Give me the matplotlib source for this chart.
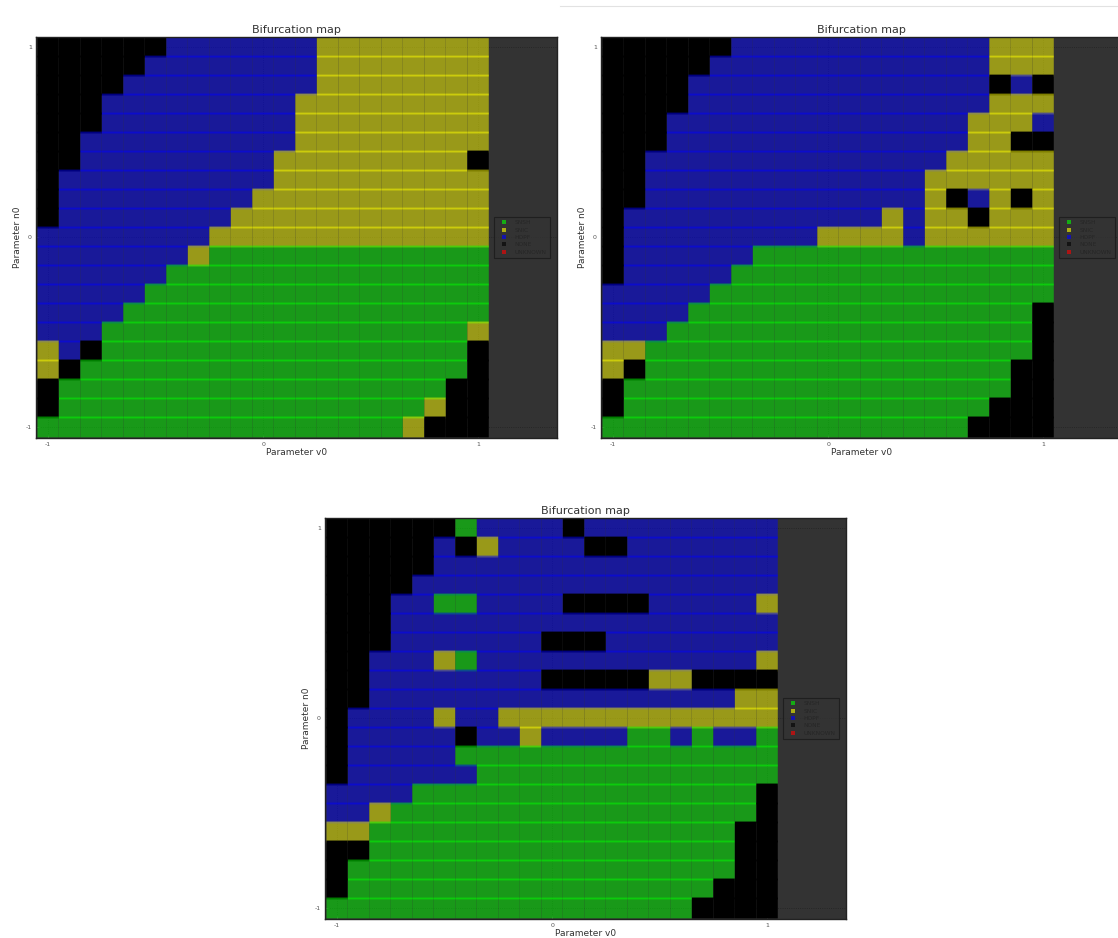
"""Three bifurcation maps (v0 vs n0) side by side, matplotlib classic look."""

import matplotlib

matplotlib.use("Agg")
import matplotlib.pyplot as plt
from matplotlib.lines import Line2D
from matplotlib.patches import Rectangle

# grid of parameter values
v0_values = [-1.0, -0.9, -0.8, -0.7, -0.6, -0.5, -0.4, -0.3, -0.2, -0.1, 0.0,
             0.1, 0.2, 0.3, 0.4, 0.5, 0.6, 0.7, 0.8, 0.9, 1.0]
n0_values = [1.0, 0.9, 0.8, 0.7, 0.6, 0.5, 0.4, 0.3, 0.2, 0.1, 0.0,
             -0.1, -0.2, -0.3, -0.4, -0.5, -0.6, -0.7, -0.8, -0.9, -1.0]

# G = SNSH, Y = SNIC, B = HOPF, K = NONE, R = UNKNOWN ; one string per n0 row
map_a = [
    "KKKKKKBBBBBBBYYYYYYYY",
    "KKKKKBBBBBBBBYYYYYYYY",
    "KKKKBBBBBBBBBYYYYYYYY",
    "KKKBBBBBBBBBYYYYYYYYY",
    "KKKBBBBBBBBBYYYYYYYYY",
    "KKBBBBBBBBBBYYYYYYYYY",
    "KKBBBBBBBBBYYYYYYYYYK",
    "KBBBBBBBBBBYYYYYYYYYY",
    "KBBBBBBBBBYYYYYYYYYYY",
    "KBBBBBBBBYYYYYYYYYYYY",
    "BBBBBBBBYYYYYYYYYYYYY",
    "BBBBBBBYGGGGGGGGGGGGG",
    "BBBBBBGGGGGGGGGGGGGGG",
    "BBBBBGGGGGGGGGGGGGGGG",
    "BBBBGGGGGGGGGGGGGGGGG",
    "BBBGGGGGGGGGGGGGGGGGY",
    "YBKGGGGGGGGGGGGGGGGGK",
    "YKGGGGGGGGGGGGGGGGGGK",
    "KGGGGGGGGGGGGGGGGGGKK",
    "KGGGGGGGGGGGGGGGGGYKK",
    "GGGGGGGGGGGGGGGGGYKKK",
]

map_b = [
    "KKKKKKBBBBBBBBBBBBYYY",
    "KKKKKBBBBBBBBBBBBBYYY",
    "KKKKBBBBBBBBBBBBBBKBK",
    "KKKKBBBBBBBBBBBBBBYYY",
    "KKKBBBBBBBBBBBBBBYYYB",
    "KKKBBBBBBBBBBBBBBYYKK",
    "KKBBBBBBBBBBBBBBYYYYY",
    "KKBBBBBBBBBBBBBYYYYYY",
    "KKBBBBBBBBBBBBBYKBYKY",
    "KBBBBBBBBBBBBYBYYKYYY",
    "KBBBBBBBBBYYYYBYYYYYY",
    "KBBBBBBGGGGGGGGGGGGGG",
    "KBBBBBGGGGGGGGGGGGGGG",
    "BBBBBGGGGGGGGGGGGGGGG",
    "BBBBGGGGGGGGGGGGGGGGK",
    "BBBGGGGGGGGGGGGGGGGGK",
    "YYGGGGGGGGGGGGGGGGGGK",
    "YKGGGGGGGGGGGGGGGGGKK",
    "KGGGGGGGGGGGGGGGGGGKK",
    "KGGGGGGGGGGGGGGGGGKKK",
    "GGGGGGGGGGGGGGGGGKKKK",
]

map_c = [
    "KKKKKKGBBBBKBBBBBBBBB",
    "KKKKKBKYBBBBKKBBBBBBB",
    "KKKKKBBBBBBBBBBBBBBBB",
    "KKKKBBBBBBBBBBBBBBBBB",
    "KKKBBGGBBBBKKKKBBBBBY",
    "KKKBBBBBBBBBBBBBBBBBB",
    "KKKBBBBBBBKKKBBBBBBBB",
    "KKBBBYGBBBBBBBBBBBBBY",
    "KKBBBBBBBBKKKKKYYKKKK",
    "KKBBBBBBBBBBBBBBBBBYY",
    "KBBBBYBBYYYYYYYYYYYYY",
    "KBBBBBKBBYBBBBGGBGBBG",
    "KBBBBBGGGGGGGGGGGGGGG",
    "KBBBBBBGGGGGGGGGGGGGG",
    "BBBBGGGGGGGGGGGGGGGGK",
    "BBYGGGGGGGGGGGGGGGGGK",
    "YYGGGGGGGGGGGGGGGGGKK",
    "KKGGGGGGGGGGGGGGGGGKK",
    "KGGGGGGGGGGGGGGGGGGKK",
    "KGGGGGGGGGGGGGGGGGKKK",
    "GGGGGGGGGGGGGGGGGKKKK",
]

class_names = ["SNSH", "SNIC", "HOPF", "NONE", "UNKNOWN"]
class_codes = ["G", "Y", "B", "K", "R"]
class_colors = ["#00ff00", "#ffff00", "#0000ff", "#000000", "#ff0000"]

BG = "#333333"

plt.rcParams["axes.unicode_minus"] = False


def draw_map(ax, rows):
    color_of = dict(zip(class_codes, class_colors))
    for n0, row in zip(n0_values, rows):
        for v0, code in zip(v0_values, row):
            alpha = 1.0 if code == "K" else 0.5
            # a hair narrow, a bit tall: rows overlap into bright seams
            ax.add_patch(Rectangle((v0 - 0.0497, n0 - 0.055), 0.0994, 0.11,
                                   facecolor=color_of[code], edgecolor="none",
                                   alpha=alpha, zorder=2, snap=False))

    ax.set_facecolor(BG)
    ax.set_xlim(-1.056, 1.367)
    ax.set_ylim(-1.058, 1.053)
    ax.set_xticks([-1, 0, 1])
    ax.set_yticks([-1, 0, 1])
    ax.tick_params(labelsize=4.5, colors="#555555", length=2, width=0.5,
                   direction="in", pad=3)
    ax.grid(True, linestyle=":", color="#222222", linewidth=0.6, zorder=1)
    ax.set_axisbelow(True)
    for spine in ax.spines.values():
        spine.set_color("#222222")
        spine.set_linewidth(1.0)

    ax.set_title("Bifurcation map", fontsize=8, color="#333333", pad=3)
    ax.set_xlabel("Parameter v0", fontsize=6.5, color="#333333", labelpad=0.5)
    ax.set_ylabel("Parameter n0", fontsize=6.5, color="#333333", labelpad=3)

    handles = [Line2D([], [], marker="s", linestyle="None", color=c,
                      markersize=2.6, alpha=0.6, markeredgewidth=0)
               for c in class_colors]
    leg = ax.legend(handles, class_names, loc="center right",
                    bbox_to_anchor=(0.993, 0.5), fontsize=4.2,
                    frameon=True, fancybox=False, handletextpad=0.9,
                    labelspacing=0.38, borderpad=0.65)
    leg.get_frame().set_facecolor(BG)
    leg.get_frame().set_edgecolor("#1a1a1a")
    leg.get_frame().set_linewidth(0.8)
    for text in leg.get_texts():
        text.set_color("#262626")


def main() -> None:
    fig = plt.figure(figsize=(11.18, 9.38), dpi=100)
    W, H = 1118.0, 938.0
    aw, ah = 521 / W, 401 / H

    ax_a = fig.add_axes([36 / W, (H - 438) / H, aw, ah])
    ax_b = fig.add_axes([601 / W, (H - 438) / H, aw, ah])
    ax_c = fig.add_axes([325 / W, (H - 919) / H, aw, ah])

    draw_map(ax_a, map_a)
    draw_map(ax_b, map_b)
    draw_map(ax_c, map_c)

    # faint separator line at the top right of the screenshot
    fig.add_artist(Line2D([560 / W, 1.0], [(H - 6) / H, (H - 6) / H],
                          color="#e2e2e2", linewidth=0.8))

    fig.savefig("out.png", dpi=100, facecolor="white")
    plt.close(fig)


if __name__ == "__main__":
    main()
